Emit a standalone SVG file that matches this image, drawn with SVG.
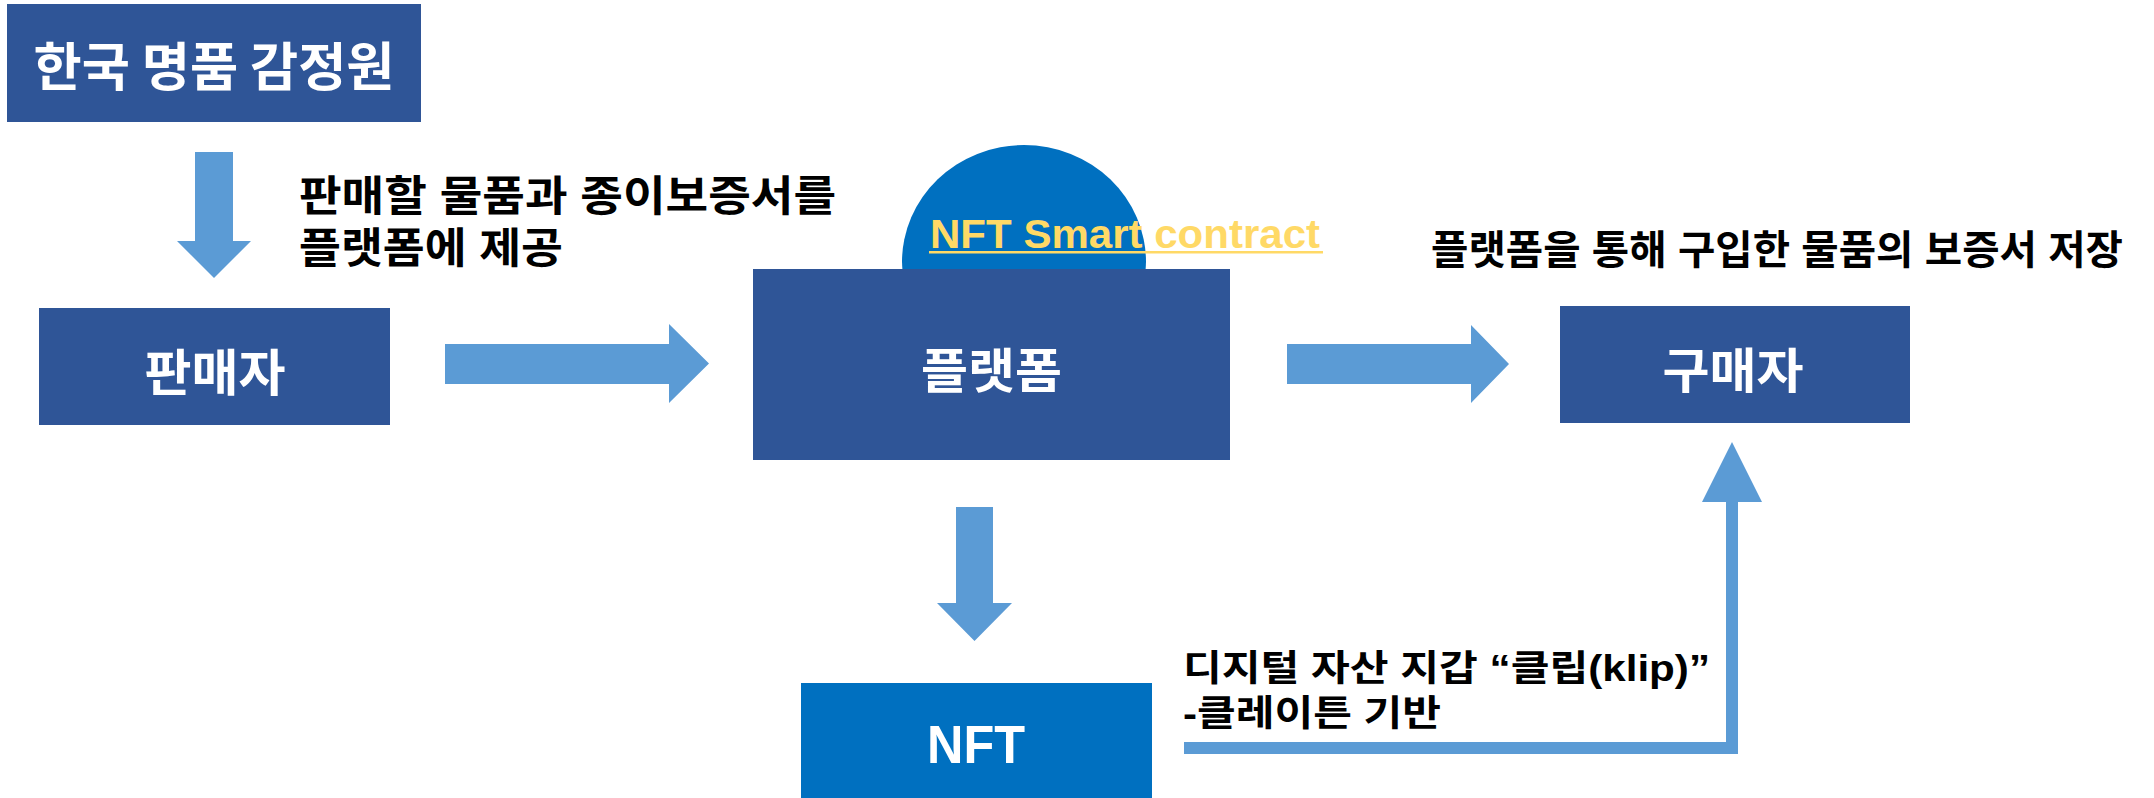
<svg xmlns="http://www.w3.org/2000/svg" width="2154" height="798" viewBox="0 0 2154 798">
<style>
.box{fill:#2F5597}
.nft{fill:#0070C0}
.arr{fill:#5B9BD5}
.line{fill:none;stroke:#5B9BD5;stroke-width:12}
.kw{font-family:"Noto Sans CJK KR","Noto Sans",sans-serif;font-weight:bold;fill:#FFFFFF;text-anchor:middle}
.kb{font-family:"Liberation Sans","Noto Sans CJK KR",sans-serif;font-weight:bold;fill:#000000}
.en{font-family:"Liberation Sans",Arial,sans-serif;font-weight:bold}
</style>
<rect width="2154" height="798" fill="#FFFFFF"/>
<g id="connectors">
  <polygon class="arr" points="195,152 233,152 233,241 251,241 214,278 177,241 195,241"/>
  <polygon class="arr" points="445,344 669,344 669,324 709,363.5 669,403 669,384 445,384"/>
  <polygon class="arr" points="1287,344 1471,344 1471,325 1509,364 1471,403 1471,384 1287,384"/>
  <polygon class="arr" points="956,507 993,507 993,603 1012,603 974.5,641 937,603 956,603"/>
  <path class="line" d="M1184 748 H1732 V500"/>
  <polygon class="arr" points="1702,502 1762,502 1732,442"/>
</g>
<g id="node-appraisal">
  <rect class="box" x="7" y="4" width="414" height="118"/>
  <text class="kw" x="214" y="86" font-size="52" textLength="361" lengthAdjust="spacingAndGlyphs">한국 명품 감정원</text>
</g>
<g id="label-seller">
  <text class="kb" x="299" y="211" font-size="42" textLength="537" lengthAdjust="spacingAndGlyphs">판매할 물품과 종이보증서를</text>
  <text class="kb" x="299" y="263" font-size="42" textLength="264" lengthAdjust="spacingAndGlyphs">플랫폼에 제공</text>
</g>
<g id="node-seller">
  <rect class="box" x="39" y="308" width="351" height="117"/>
  <text class="kw" x="215" y="391" font-size="50" textLength="141" lengthAdjust="spacingAndGlyphs">판매자</text>
</g>
<g id="node-contract">
  <ellipse class="nft" cx="1024" cy="262" rx="122" ry="117"/>
</g>
<g id="node-platform">
  <rect class="box" x="753" y="269" width="477" height="191"/>
  <text class="kw" x="991.5" y="388" font-size="48" textLength="141" lengthAdjust="spacingAndGlyphs">플랫폼</text>
</g>
<g id="label-contract">
  <text class="en" x="930" y="248" font-size="40" fill="#FFD966" textLength="390" lengthAdjust="spacingAndGlyphs">NFT Smart contract</text>
  <rect x="929" y="251" width="394" height="2.5" fill="#FFD966"/>
</g>
<g id="label-buyer">
  <text class="kb" x="1431" y="264" font-size="40" textLength="692" lengthAdjust="spacingAndGlyphs">플랫폼을 통해 구입한 물품의 보증서 저장</text>
</g>
<g id="node-buyer">
  <rect class="box" x="1560" y="306" width="350" height="117"/>
  <text class="kw" x="1733" y="388" font-size="48" textLength="141" lengthAdjust="spacingAndGlyphs">구매자</text>
</g>
<g id="node-nft">
  <rect class="nft" x="801" y="683" width="351" height="115"/>
  <text class="en" x="976" y="763" font-size="53" fill="#FFFFFF" text-anchor="middle" textLength="98" lengthAdjust="spacingAndGlyphs">NFT</text>
</g>
<g id="label-wallet">
  <text class="kb" x="1183" y="681" font-size="36" textLength="527" lengthAdjust="spacingAndGlyphs">디지털 자산 지갑 “클립(klip)”</text>
  <text class="kb" x="1183" y="726" font-size="36" textLength="258" lengthAdjust="spacingAndGlyphs">-클레이튼 기반</text>
</g>
</svg>
